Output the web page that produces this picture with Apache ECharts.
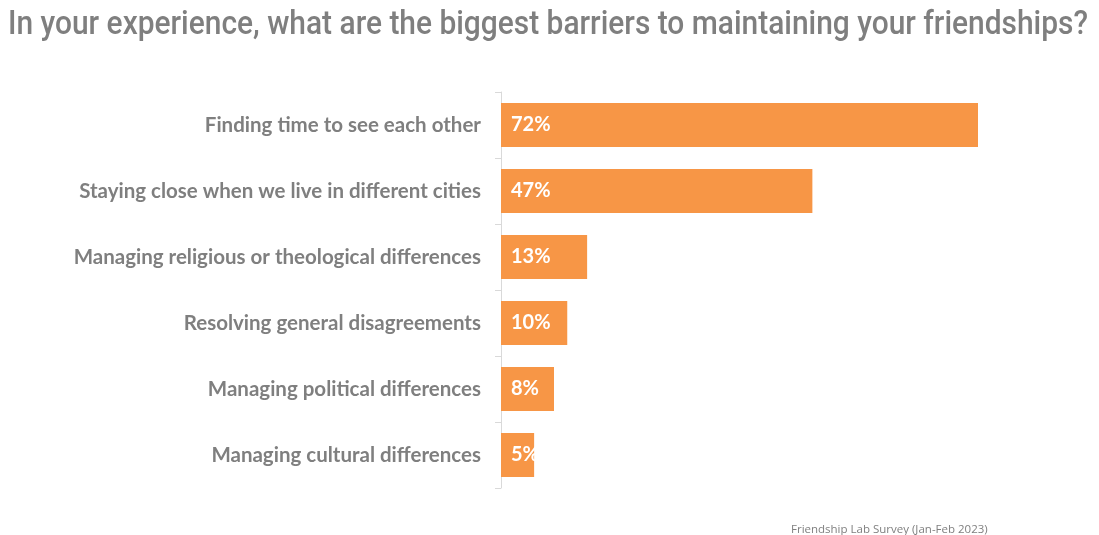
<!DOCTYPE html>
<html>
<head>
<meta charset="utf-8">
<script src="https://cdn.jsdelivr.net/npm/echarts@6/dist/echarts.min.js"></script>
<style>
  html, body { margin: 0; padding: 0; background: #ffffff; }
  #chart { width: 1099px; height: 535px; }
</style>
</head>
<body>
<div id="chart"></div>
<script>
// Survey question and source
const titleText = 'In your experience, what are the biggest barriers to maintaining your friendships?';
const sourceText = 'Friendship Lab Survey (Jan-Feb 2023)';

// Barriers, listed top to bottom
const barriers = [
  'Finding time to see each other',
  'Staying close when we live in different cities',
  'Managing religious or theological differences',
  'Resolving general disagreements',
  'Managing political differences',
  'Managing cultural differences'
];

// Share of respondents (%)
const shares = [72, 47, 13, 10, 8, 5];

// Title is set in a condensed style: squeeze a regular face horizontally
const titleFont = '500 34px Roboto';
const titleWidth = 1080;
const measureCtx = document.createElement('canvas').getContext('2d');
measureCtx.font = titleFont;
const titleScaleX = titleWidth / measureCtx.measureText(titleText).width;

const chart = echarts.init(document.getElementById('chart'), null, { renderer: 'canvas' });

chart.setOption({
  backgroundColor: '#ffffff',
  animation: false,
  title: {
    text: sourceText,
    left: 786,
    top: 519,
    textStyle: {
      fontFamily: 'Open Sans',
      fontWeight: 'normal',
      fontSize: 11.5,
      color: '#7f7f7f'
    }
  },
  graphic: [
    {
      type: 'text',
      x: 8,
      y: 8,
      scaleX: titleScaleX,
      style: {
        text: titleText,
        font: titleFont,
        fill: '#7f7f7f',
        textAlign: 'left',
        textVerticalAlign: 'top'
      }
    }
  ],
  grid: {
    left: 501,
    right: 68,
    top: 92,
    bottom: 47,
    containLabel: false
  },
  xAxis: {
    type: 'value',
    min: 0,
    max: 80,
    show: false
  },
  yAxis: {
    type: 'category',
    inverse: true,
    data: barriers,
    axisLine: { show: true, lineStyle: { color: '#d9d9d9', width: 1 } },
    axisTick: { show: true, length: 6, lineStyle: { color: '#d9d9d9' } },
    axisLabel: {
      margin: 20,
      fontFamily: 'Lato',
      fontWeight: 'bold',
      fontSize: 20.5,
      color: '#7f7f7f'
    },
    splitLine: { show: false }
  },
  series: [
    {
      type: 'bar',
      data: shares,
      barWidth: 44,
      itemStyle: { color: '#f79646' },
      label: {
        show: true,
        position: 'insideLeft',
        distance: 10,
        formatter: '{c}%',
        fontFamily: 'Lato',
        fontWeight: 'bold',
        fontSize: 20,
        color: '#ffffff'
      }
    }
  ]
});
</script>
</body>
</html>
